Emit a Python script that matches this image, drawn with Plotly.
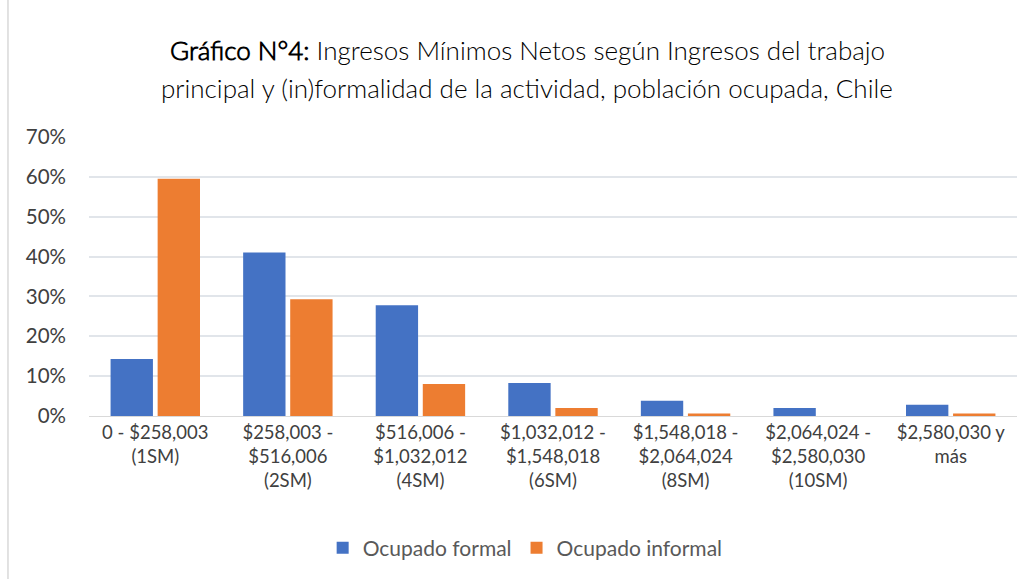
import plotly.graph_objects as go

categories = [
    "0 - $258,003<br>(1SM)",
    "$258,003 -<br>$516,006<br>(2SM)",
    "$516,006 -<br>$1,032,012<br>(4SM)",
    "$1,032,012 -<br>$1,548,018<br>(6SM)",
    "$1,548,018 -<br>$2,064,024<br>(8SM)",
    "$2,064,024 -<br>$2,580,030<br>(10SM)",
    "$2,580,030 y<br>más",
]
formal = [0.143, 0.41, 0.278, 0.083, 0.038, 0.02, 0.028]
informal = [0.595, 0.293, 0.08, 0.02, 0.006, 0.0, 0.006]
series_names = ["Ocupado formal", "Ocupado informal"]
y_ticks = [0, 0.1, 0.2, 0.3, 0.4, 0.5, 0.6, 0.7]
y_tick_labels = ["0%", "10%", "20%", "30%", "40%", "50%", "60%", "70%"]
title_line1 = "<b>Gráfico N°4:</b> Ingresos Mínimos Netos según Ingresos del trabajo"
title_line2 = "principal y (in)formalidad de la actividad, población ocupada, Chile"

FONT = "Lato, 'Open Sans', sans-serif"
TFONT = "'Lato Light', Lato, 'Open Sans', sans-serif"

fig = go.Figure()
fig.add_trace(go.Bar(x=categories, y=formal, name=series_names[0],
                     marker=dict(color="#4472C4", line=dict(width=0))))
fig.add_trace(go.Bar(x=categories, y=informal, name=series_names[1],
                     marker=dict(color="#ED7D31", line=dict(width=0))))

fig.update_layout(
    width=1032, height=579,
    paper_bgcolor="white", plot_bgcolor="white",
    margin=dict(l=89, r=15, t=137, b=162),
    barmode="group", bargap=0.29, bargroupgap=0.1,
    font=dict(family=FONT, color="#404040", size=18.5),
    legend=dict(orientation="h", x=0.47, xanchor="center", y=-0.468, yanchor="middle",
                font=dict(size=21, color="#595959"), itemwidth=30, traceorder="normal"),
    xaxis=dict(showgrid=False, showline=True, linecolor="#D9D9D9", linewidth=1,
               tickfont=dict(size=18.5, color="#404040"), ticks=""),
    yaxis=dict(range=[0, 0.7], tickvals=y_ticks, ticktext=y_tick_labels,
               showgrid=True, gridcolor="#E1E5EA", gridwidth=1.5, zeroline=False,
               tickfont=dict(size=20.5, color="#404040"), ticklabelstandoff=22),
    annotations=[
        dict(text=title_line1, xref="paper", yref="paper", x=0.472, y=1.3107,
             xanchor="center", yanchor="middle", showarrow=False,
             font=dict(family=TFONT, size=26, color="#000000")),
        dict(text=title_line2, xref="paper", yref="paper", x=0.472, y=1.175,
             xanchor="center", yanchor="middle", showarrow=False,
             font=dict(family=TFONT, size=26, color="#000000")),
    ],
    shapes=[dict(type="rect", xref="paper", yref="paper", x0=-0.0873, x1=1.03, y0=-0.62, y1=1.6,
                 line=dict(color="#D9D9D9", width=1.5), layer="below")],
)

fig.write_html("out.html", config={"displayModeBar": False},
               post_script="document.body.style.margin='0';document.body.style.overflow='hidden';")
